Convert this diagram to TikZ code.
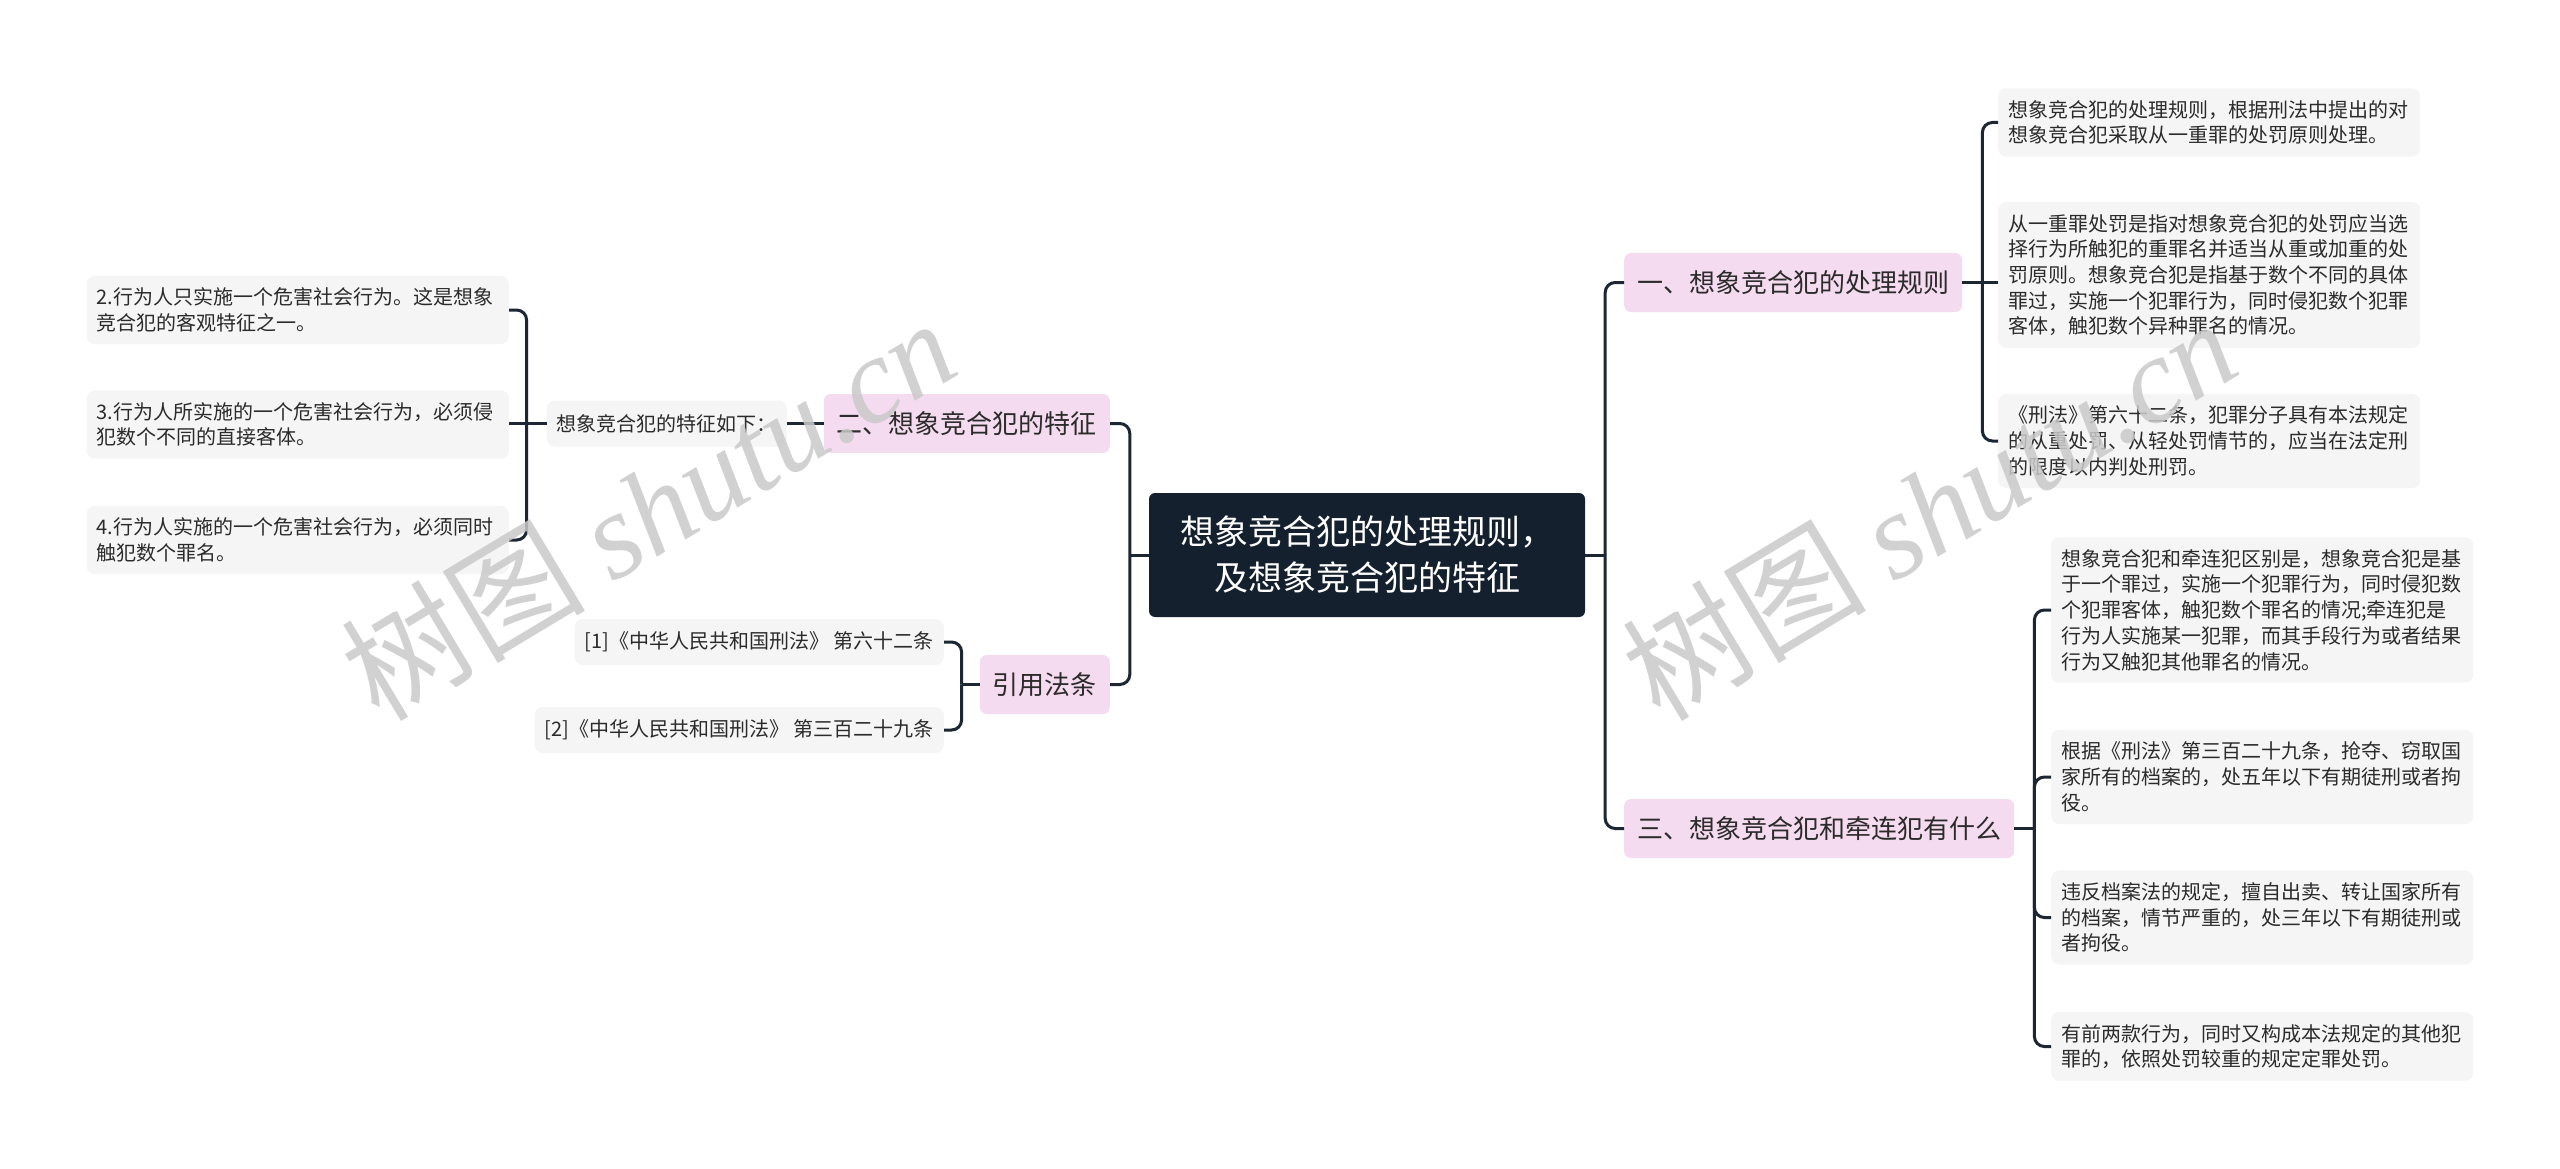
\documentclass[tikz,border=0pt]{standalone}
\usepackage{fontspec}
\setmainfont{Noto Sans CJK SC}
\newfontfamily\wmlatin{Liberation Serif}
\usepackage{tikz}
\usetikzlibrary{positioning, calc}
\definecolor{rootblue}{HTML}{15202E}
\definecolor{branchpink}{HTML}{F5DBF0}
\definecolor{leafgray}{HTML}{F5F5F5}
\definecolor{linkdark}{HTML}{1C2733}
\definecolor{textdark}{HTML}{2B2B2B}
\definecolor{wmgray}{HTML}{C9C9C9}

\tikzset{
  rootbox/.style={fill=rootblue, text=white, rounded corners=6pt, minimum width=436pt, minimum height=124pt, align=center, font=\fontsize{34}{46}\selectfont},
  branchbox/.style={fill=branchpink, text=textdark, rounded corners=7pt, minimum height=59pt, inner xsep=13pt, font=\fontsize{26}{30}\selectfont},
  leafbox/.style={fill=leafgray, text=textdark, rounded corners=8pt, text width=402pt, align=left, inner xsep=10pt, inner ysep=12pt, font=\fontsize{20}{25.7}\selectfont},
  notebox/.style={fill=leafgray, text=textdark, rounded corners=8pt, minimum height=46pt, inner xsep=10pt, font=\fontsize{20}{25.7}\selectfont},
  link/.style={draw=linkdark, line width=3pt, rounded corners=10pt},
  wmark/.style={text=wmgray, opacity=0.85, rotate=31, font=\fontsize{122}{126}\selectfont}
}

\begin{document}
\begin{tikzpicture}[x=1pt, y=-1pt]
    \fill[white] (0,0) rectangle (2560,1169);
    \useasboundingbox (0,0) rectangle (2560,1169);

    % Root
    \node[rootbox] (root) at (1367, 555) {想象竞合犯的处理规则，\\及想象竞合犯的特征};

    % Branches
    \node[branchbox, anchor=west] (rule) at (1624, 282.5) {一、想象竞合犯的处理规则};
    \node[branchbox, anchor=west] (diff) at (1624, 828.5) {三、想象竞合犯和牵连犯有什么};
    \node[branchbox, anchor=east] (feat) at (1110, 423.5) {二、想象竞合犯的特征};
    \node[branchbox, anchor=east] (law) at (1110, 684.5) {引用法条};

    % Rule leaves
    \node[leafbox, anchor=west] (rule1) at (1998, 122.5) {想象竞合犯的处理规则，根据刑法中提出的对\\想象竞合犯采取从一重罪的处罚原则处理。};
    \node[leafbox, anchor=west] (rule2) at (1998, 275) {从一重罪处罚是指对想象竞合犯的处罚应当选\\择行为所触犯的重罪名并适当从重或加重的处\\罚原则。想象竞合犯是指基于数个不同的具体\\罪过，实施一个犯罪行为，同时侵犯数个犯罪\\客体，触犯数个异种罪名的情况。};
    \node[leafbox, anchor=west] (rule3) at (1998, 441) {《刑法》第六十二条，犯罪分子具有本法规定\\的从重处罚、从轻处罚情节的，应当在法定刑\\的限度以内判处刑罚。};

    % Difference leaves
    \node[leafbox, anchor=west] (diff1) at (2051, 610) {想象竞合犯和牵连犯区别是，想象竞合犯是基\\于一个罪过，实施一个犯罪行为，同时侵犯数\\个犯罪客体，触犯数个罪名的情况;牵连犯是\\行为人实施某一犯罪，而其手段行为或者结果\\行为又触犯其他罪名的情况。};
    \node[leafbox, anchor=west] (diff2) at (2051, 777) {根据《刑法》第三百二十九条，抢夺、窃取国\\家所有的档案的，处五年以下有期徒刑或者拘\\役。};
    \node[leafbox, anchor=west] (diff3) at (2051, 917.5) {违反档案法的规定，擅自出卖、转让国家所有\\的档案，情节严重的，处三年以下有期徒刑或\\者拘役。};
    \node[leafbox, anchor=west] (diff4) at (2051, 1046.5) {有前两款行为，同时又构成本法规定的其他犯\\罪的，依照处罚较重的规定定罪处罚。};

    % Feature leaves
    \node[notebox, anchor=east] (featnote) at (787, 423.5) {想象竞合犯的特征如下：};
    \node[leafbox, anchor=east] (feat2) at (509, 310) {2.行为人只实施一个危害社会行为。这是想象\\竞合犯的客观特征之一。};
    \node[leafbox, anchor=east] (feat3) at (509, 424.5) {3.行为人所实施的一个危害社会行为，必须侵\\犯数个不同的直接客体。};
    \node[leafbox, anchor=east] (feat4) at (509, 540) {4.行为人实施的一个危害社会行为，必须同时\\触犯数个罪名。};

    % Law leaves
    \node[notebox, anchor=east] (law1) at (944, 642) {[1]《中华人民共和国刑法》 第六十二条};
    \node[notebox, anchor=east] (law2) at (944, 730) {[2]《中华人民共和国刑法》 第三百二十九条};

    % Links from root
    \draw[link] (root.east) -- ++(20,0) coordinate (rootR);
    \draw[link] (rootR) |- (rule.west);
    \draw[link] (rootR) |- (diff.west);
    \draw[link] (root.west) -- ++(-19,0) coordinate (rootL);
    \draw[link] (rootL) |- (feat.east);
    \draw[link] (rootL) |- (law.east);

    % Links to leaves
    \draw[link] (rule.east) -- ++(20,0) coordinate (ruleJ);
    \draw[link] (ruleJ) |- (rule1.west);
    \draw[link] (ruleJ) -- (ruleJ -| rule2.west);
    \draw[link] (ruleJ) |- (rule3.west);

    \draw[link] (diff.east) -- ++(20,0) coordinate (diffJ);
    \foreach \k in {1,...,4}
        \draw[link] (diffJ) |- (diff\k.west);

    \draw[link] (feat.west) -- (featnote.east);
    \draw[link] (featnote.west) -- ++(-20,0) coordinate (featJ);
    \draw[link] (featJ) |- (feat2.east);
    \draw[link] (featJ) -- (featJ -| feat3.east);
    \draw[link] (featJ) |- (feat4.east);

    \draw[link] (law.west) -- ++(-18,0) coordinate (lawJ);
    \draw[link] (lawJ) |- (law1.east);
    \draw[link] (lawJ) |- (law2.east);

    % Watermarks
    \node[wmark] (wmleft) at (648, 508) {树图 {\wmlatin\itshape shutu.cn}};
    \node[wmark] (wmright) at (1929, 508) {树图 {\wmlatin\itshape shutu.cn}};
\end{tikzpicture}
\end{document}
